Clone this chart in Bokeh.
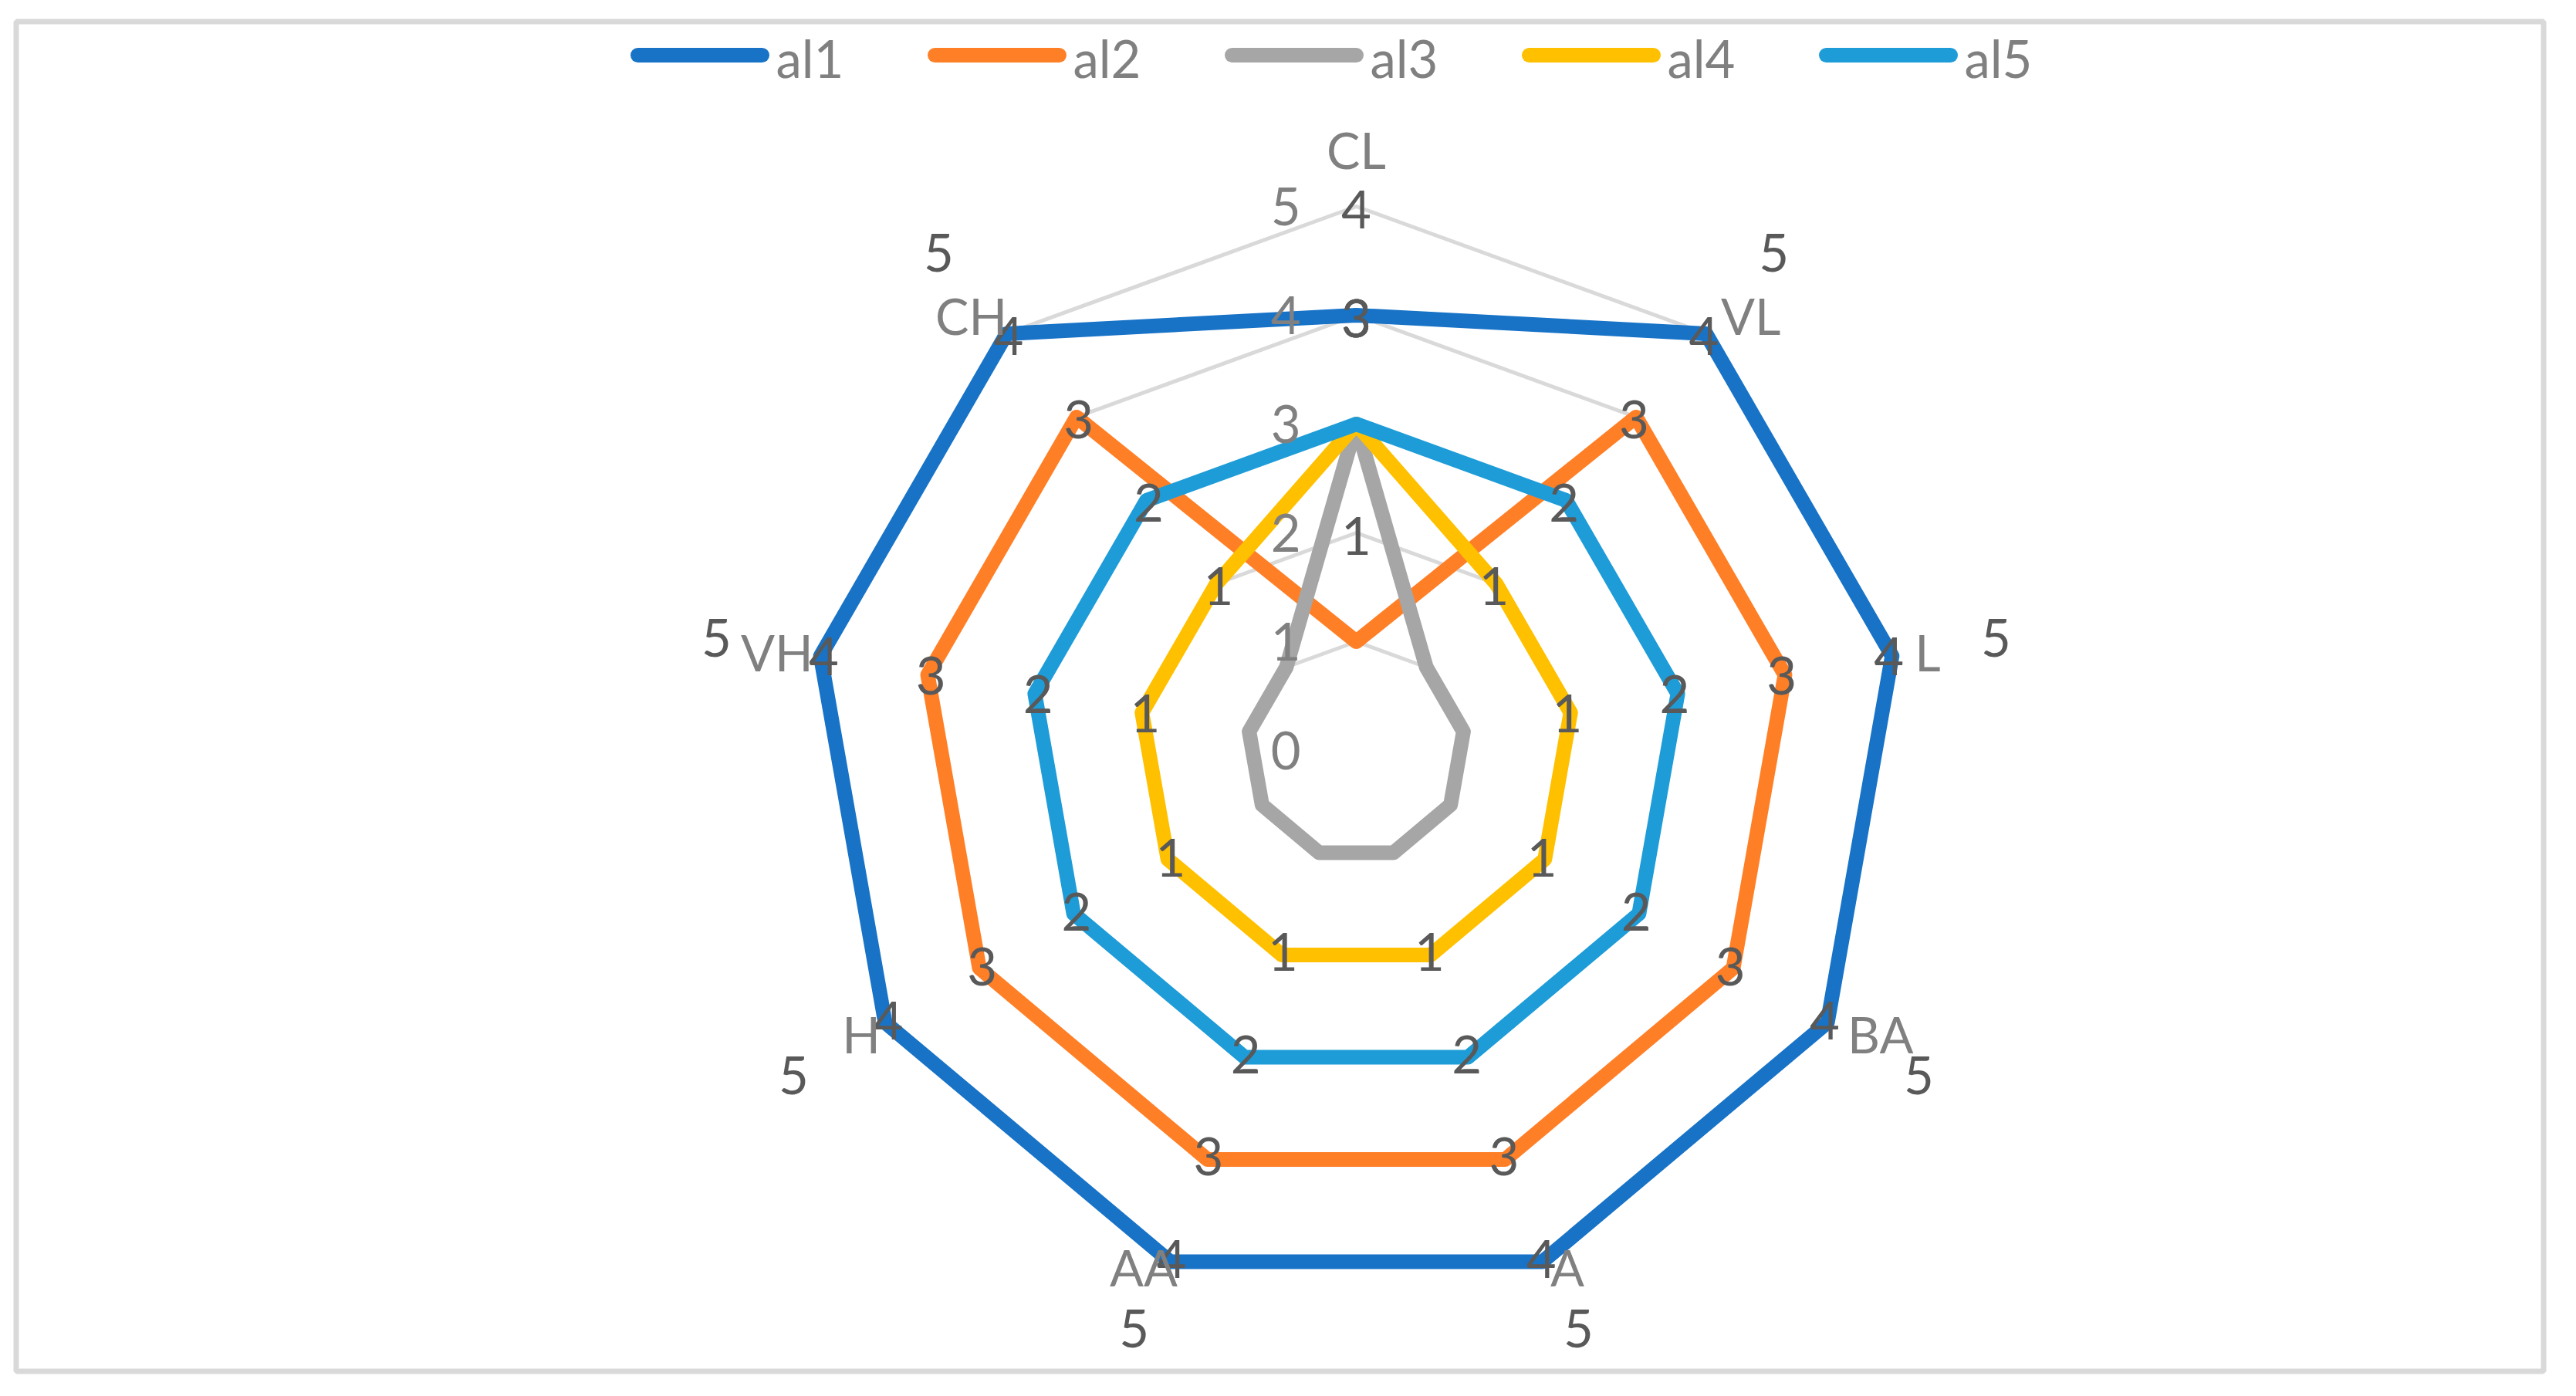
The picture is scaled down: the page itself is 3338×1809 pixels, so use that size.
import numpy as np
from bokeh.plotting import figure
from bokeh.models import Range1d
from bokeh.embed import file_html
from bokeh.resources import INLINE
from bokeh.core.properties import value

# ---------------- data ----------------
categories = ["CL", "VL", "L", "BA", "A", "AA", "H", "VH", "CH"]
series_names = ["al1", "al2", "al3", "al4", "al5"]
al1 = [4, 5, 5, 5, 5, 5, 5, 5, 5]
al2 = [1, 4, 4, 4, 4, 4, 4, 4, 4]
al3 = [3, 1, 1, 1, 1, 1, 1, 1, 1]
al4 = [3, 2, 2, 2, 2, 2, 2, 2, 2]
al5 = [3, 3, 3, 3, 3, 3, 3, 3, 3]
tick_values = [0, 1, 2, 3, 4, 5]

series_values = [al1, al2, al3, al4, al5]
series_colors = ["#1873C7", "#FF7F27", "#A6A6A6", "#FFC000", "#1E9CD8"]

# ---------------- layout (pixels) ----------------
W, H = 3322, 1793
CX, CY = 1757, 972      # centre of radar, figure pixels (from top-left)
UNIT = 141.0            # pixels per value unit
FONT = value("Lato")
FS = "67px"
FS_CAT = "65px"
LABEL_MAX_Y = 1721      # data labels are kept inside the chart area


def px(x):
    return (x - CX) / UNIT


def py(y):
    return (CY - y) / UNIT


p = figure(width=W, height=H, output_backend="svg", toolbar_location=None,
           x_range=Range1d(-CX / UNIT, (W - CX) / UNIT),
           y_range=Range1d(-(H - CY) / UNIT, CY / UNIT),
           x_axis_type=None, y_axis_type=None, min_border=0,
           outline_line_color=None, background_fill_color="white",
           border_fill_color="white")
p.grid.visible = False

n = len(categories)
theta = np.arange(n) * 2 * np.pi / n
sx, sy = np.sin(theta), np.cos(theta)

# chart border
p.quad(left=px(20.5), right=px(3295.5), top=py(27.5), bottom=py(1776.5),
       fill_color=None, line_color="#D9D9D9", line_width=7)

# ring gridlines
for k in tick_values[1:]:
    p.patch(list(k * sx), list(k * sy), fill_color=None,
            line_color="#D9D9D9", line_width=5, line_join="round")

# series
for vals, col in zip(series_values, series_colors):
    v = np.array(vals, dtype=float)
    p.patch(list(v * sx), list(v * sy), fill_color=None, line_color=col,
            line_width=19, line_join="round")

# axis tick labels (left of the top spoke)
p.text(x=[-72 / UNIT] * len(tick_values), y=tick_values,
       text=[str(t) for t in tick_values], text_font=FONT, text_font_size=FS,
       text_color="#808080", text_align="right", text_baseline="middle")

# data labels (placed one unit outward along the spoke, kept inside the chart)
ymin_data = py(LABEL_MAX_Y)
for vals in series_values:
    v = np.array(vals, dtype=float)
    r = v + 0.97
    ly = np.maximum(r * sy, ymin_data)
    p.text(x=list(r * sx), y=list(ly), text=[str(int(a)) for a in vals],
           text_font=FONT, text_font_size=FS, text_color="#595959",
           text_align="center", text_baseline="middle")

# category labels
RL = 735 / UNIT
for i, c in enumerate(categories):
    s, co = sx[i], sy[i]
    xoff = 0
    if s > 0.1:
        align = "left"
    elif s < -0.1:
        align = "right"
        xoff = 20
    else:
        align = "center"
    yoff = 0
    if co > 0.9:
        yoff = -44
    elif co < -0.9:
        yoff = -21
    p.text(x=[RL * s], y=[RL * co], text=[c], text_font=FONT,
           text_font_size=FS_CAT, text_color="#808080", text_align=align,
           text_baseline="middle", x_offset=xoff, y_offset=yoff)

# legend
LX0, LSTEP, LLEN, LY = 817, 385, 179, 71
for i, (name, col) in enumerate(zip(series_names, series_colors)):
    x0 = LX0 + i * LSTEP
    p.line([px(x0 + 9), px(x0 + LLEN - 9)], [py(LY), py(LY)], line_color=col,
           line_width=19, line_cap="round")
    p.text(x=[px(x0 + LLEN + 9)], y=[py(LY + 3)], text=[name], text_font=FONT,
           text_font_size=FS, text_color="#808080", text_align="left",
           text_baseline="middle")

open("out.html", "w").write(file_html(p, INLINE))
